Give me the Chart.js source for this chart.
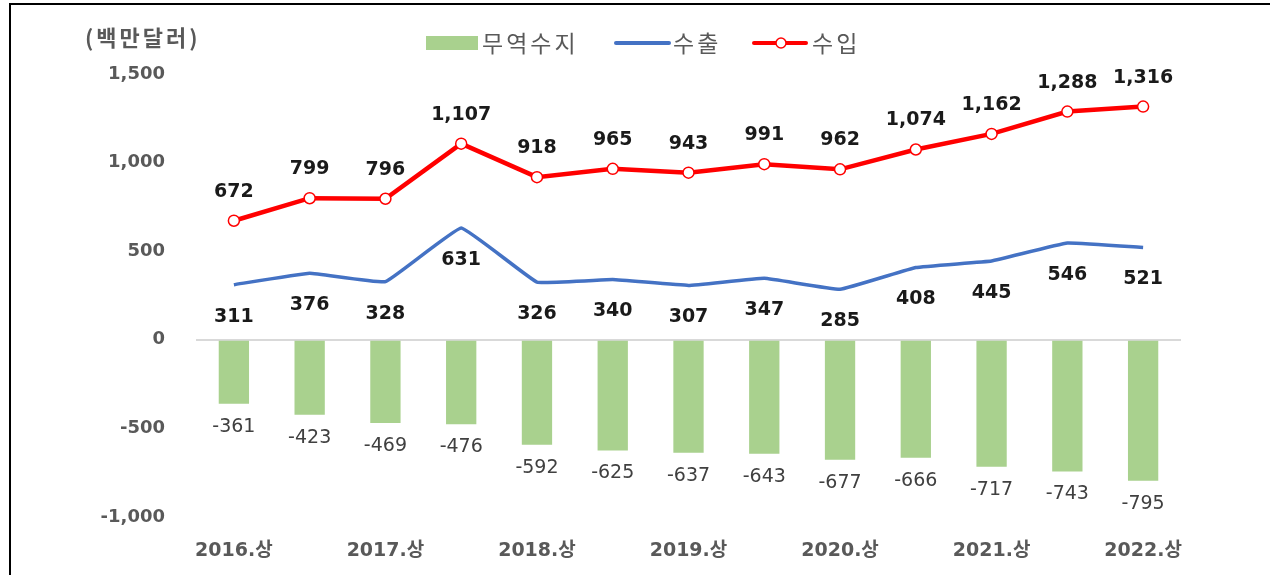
<!DOCTYPE html>
<html>
<head>
<meta charset="utf-8">
<script src="https://cdn.jsdelivr.net/npm/chart.js@4.4.0/dist/chart.umd.min.js"></script>
<style>
  body { margin: 0; background: #fff; }
  #wrap { position: relative; width: 1270px; height: 575px; }
  #frame { position: absolute; left: 9px; top: 3px; right: 0; bottom: 0;
           border-top: 2px solid #000; border-left: 2px solid #000; pointer-events: none; }
</style>
</head>
<body>
<div id="wrap">
  <canvas id="chart" width="1270" height="575"></canvas>
  <div id="frame"></div>
</div>
<script>
const periods = ['2016.상', '2016.하', '2017.상', '2017.하', '2018.상', '2018.하', '2019.상',
                 '2019.하', '2020.상', '2020.하', '2021.상', '2021.하', '2022.상'];
const balance = [-361, -423, -469, -476, -592, -625, -637, -643, -677, -666, -717, -743, -795];
const exports = [311, 376, 328, 631, 326, 340, 307, 347, 285, 408, 445, 546, 521];
const imports = [672, 799, 796, 1107, 918, 965, 943, 991, 962, 1074, 1162, 1288, 1316];
const yTicks = [-1000, -500, 0, 500, 1000, 1500];

const GREEN = '#A9D18E';
const BLUE = '#4472C4';
const RED = '#FF0000';
const GRAY = '#595959';
const NUM_FONT = "'DejaVu Sans', 'Noto Sans CJK KR', sans-serif";
const KR_FONT = "'Noto Sans CJK KR', sans-serif";

const fmt = v => v.toLocaleString('en-US');

// value labels + unit + legend
const decorations = {
    id: 'decorations',
    afterDatasetsDraw(chart) {
        const ctx = chart.ctx;
        ctx.save();
        ctx.textAlign = 'center';
        ctx.textBaseline = 'middle';
        chart.data.datasets.forEach((ds, i) => {
            const meta = chart.getDatasetMeta(i);
            meta.data.forEach((el, j) => {
                const v = ds.data[j];
                if (ds.type === 'bar') {
                    ctx.font = '19px ' + NUM_FONT;
                    ctx.fillStyle = '#404040';
                    ctx.fillText(fmt(v), el.x, el.y + 23);
                } else if (ds.label === '수출') {
                    ctx.font = 'bold 19px ' + NUM_FONT;
                    ctx.fillStyle = '#1a1a1a';
                    ctx.fillText(fmt(v), el.x, el.y + 32);
                } else {
                    ctx.font = 'bold 19px ' + NUM_FONT;
                    ctx.fillStyle = '#1a1a1a';
                    ctx.fillText(fmt(v), el.x, el.y - 29);
                }
            });
        });

        // unit label
        ctx.font = 'bold 22px ' + KR_FONT;
        ctx.letterSpacing = '3px';
        ctx.fillStyle = GRAY;
        ctx.textAlign = 'left';
        ctx.fillText('(백만달러)', 85, 38);

        // legend
        ctx.font = '23px ' + KR_FONT;
        ctx.letterSpacing = '3px';
        const y = 43;
        ctx.fillStyle = GREEN;
        ctx.fillRect(426, 36, 52, 14);
        ctx.fillStyle = GRAY;
        ctx.fillText('무역수지', 482, y);

        ctx.strokeStyle = BLUE;
        ctx.lineWidth = 4;
        ctx.lineCap = 'round';
        ctx.beginPath(); ctx.moveTo(616, y); ctx.lineTo(669, y); ctx.stroke();
        ctx.fillText('수출', 673, y);

        ctx.strokeStyle = RED;
        ctx.beginPath(); ctx.moveTo(754, y); ctx.lineTo(806, y); ctx.stroke();
        ctx.beginPath(); ctx.arc(781, y, 5, 0, Math.PI * 2);
        ctx.fillStyle = '#fff'; ctx.fill();
        ctx.lineWidth = 1.5; ctx.stroke();
        ctx.fillStyle = GRAY;
        ctx.fillText('수입', 812, y);
        ctx.restore();
    }
};

new Chart(document.getElementById('chart').getContext('2d'), {
    type: 'bar',
    data: {
        labels: periods,
        datasets: [
            {
                type: 'line',
                label: '수입',
                data: imports,
                borderColor: RED,
                borderWidth: 4.5,
                pointBackgroundColor: '#fff',
                pointBorderColor: RED,
                pointBorderWidth: 1.5,
                pointRadius: 5.5,
                tension: 0,
                order: 1
            },
            {
                type: 'line',
                label: '수출',
                data: exports,
                borderColor: BLUE,
                borderWidth: 3.5,
                pointRadius: 0,
                tension: 0.08,
                order: 2
            },
            {
                type: 'bar',
                label: '무역수지',
                data: balance,
                backgroundColor: GREEN,
                barPercentage: 0.4,
                categoryPercentage: 1,
                order: 3
            }
        ]
    },
    options: {
        responsive: false,
        animation: false,
        layout: { padding: { top: 74, right: 89, bottom: 14, left: 0 } },
        plugins: {
            legend: { display: false },
            tooltip: { enabled: false }
        },
        scales: {
            x: {
                offset: true,
                afterFit: scale => { scale.height = 44; },
                grid: { display: false, drawTicks: false },
                border: { display: false },
                ticks: {
                    autoSkip: false,
                    maxRotation: 0,
                    padding: 23,
                    color: GRAY,
                    font: { family: NUM_FONT, size: 19, weight: 'bold' },
                    callback: (val, i) => i % 2 === 0 ? periods[i] : ''
                }
            },
            y: {
                min: yTicks[0],
                max: yTicks[yTicks.length - 1],
                afterBuildTicks: scale => { scale.ticks = yTicks.map(v => ({ value: v })); },
                afterFit: scale => { scale.width = 196; },
                border: { display: false },
                grid: {
                    drawTicks: false,
                    lineWidth: 2,
                    color: c => c.tick && c.tick.value === 0 ? '#d9d9d9' : 'rgba(0,0,0,0)'
                },
                ticks: {
                    padding: 31,
                    color: GRAY,
                    font: { family: NUM_FONT, size: 18, weight: 'bold' },
                    callback: v => fmt(v)
                }
            }
        }
    },
    plugins: [decorations]
});
</script>
</body>
</html>
